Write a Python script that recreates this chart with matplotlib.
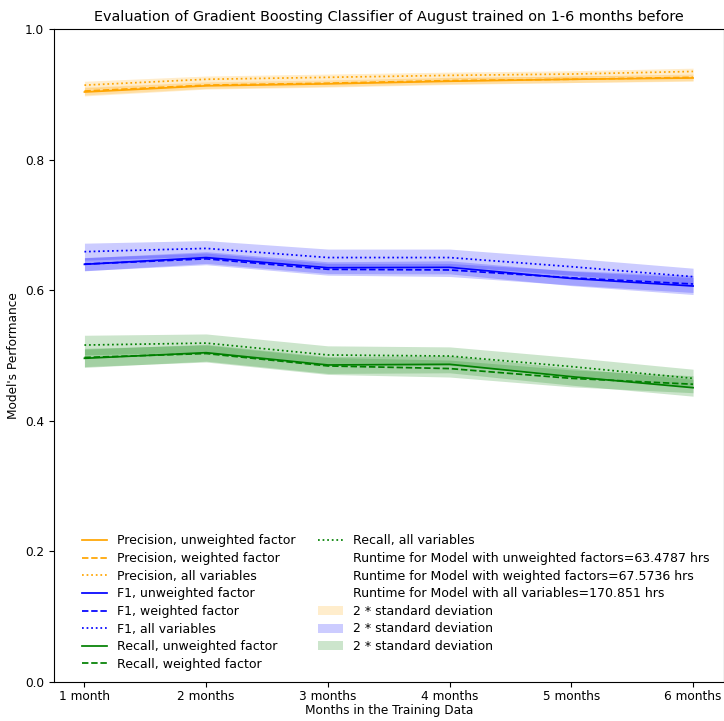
import numpy as np
import matplotlib
matplotlib.use('Agg')
import matplotlib.pyplot as plt

months = [1, 2, 3, 4, 5, 6]
month_labels = ['1 month', '2 months', '3 months', '4 months', '5 months', '6 months']

# mean scores per metric: unweighted factor, weighted factor, all variables
prec_unw = [0.9035, 0.913, 0.916, 0.920, 0.923, 0.925]
prec_w = [0.905, 0.914, 0.917, 0.921, 0.923, 0.926]
prec_all = [0.914, 0.923, 0.926, 0.929, 0.931, 0.935]
f1_unw = [0.6396, 0.650, 0.6345, 0.635, 0.618, 0.6064]
f1_w = [0.640, 0.648, 0.632, 0.631, 0.619, 0.6095]
f1_all = [0.659, 0.664, 0.650, 0.650, 0.636, 0.6207]
rec_unw = [0.4957, 0.5043, 0.4855, 0.4865, 0.4676, 0.4507]
rec_w = [0.497, 0.503, 0.484, 0.480, 0.465, 0.456]
rec_all = [0.516, 0.519, 0.5008, 0.4992, 0.483, 0.465]

# standard deviations (band = mean +/- 2*std)
prec_std = [0.003, 0.0025, 0.0025, 0.0025, 0.0025, 0.0025]
f1_std = [0.005, 0.0045, 0.0045, 0.005, 0.0055, 0.0065]
f1_std_all = [0.0065, 0.006, 0.0065, 0.0065, 0.0065, 0.0065]
rec_std = [0.007, 0.0065, 0.0065, 0.0065, 0.0065, 0.0065]
rec_std_all = [0.0075, 0.007, 0.007, 0.007, 0.007, 0.007]

runtime_unw = 63.4787
runtime_w = 67.5736
runtime_all = 170.851

fs = 8.7
fig = plt.figure(figsize=(7.24, 7.21), dpi=100)
ax = fig.add_axes([54 / 724, 1 - 682 / 721, (723.5 - 54) / 724, (682 - 29) / 721])

x = np.array(months)
groups = [
    ('Precision', 'orange', prec_unw, prec_w, prec_all, prec_std, prec_std),
    ('F1', 'blue', f1_unw, f1_w, f1_all, f1_std, f1_std_all),
    ('Recall', 'green', rec_unw, rec_w, rec_all, rec_std, rec_std_all),
]

line_handles = []
fill_handles = []
for name, c, unw, w, allv, sd, sd_all in groups:
    h1, = ax.plot(x, unw, '-', color=c, lw=1.25, label=name + ', unweighted factor')
    h2, = ax.plot(x, w, '--', color=c, lw=1.25, label=name + ', weighted factor')
    h3, = ax.plot(x, allv, ':', color=c, lw=1.25, label=name + ', all variables')
    line_handles += [h1, h2, h3]
    first = None
    for vals, s in [(unw, sd), (w, sd), (allv, sd_all)]:
        vals = np.array(vals)
        s = np.array(s)
        f = ax.fill_between(x, vals - 2 * s, vals + 2 * s, color=c, alpha=0.2,
                            lw=0, label='2 * standard deviation')
        if first is None:
            first = f
    fill_handles.append(first)

runtime_handles = [
    ax.plot([], [], ' ', label='Runtime for Model with unweighted factors=%g hrs' % runtime_unw)[0],
    ax.plot([], [], ' ', label='Runtime for Model with weighted factors=%g hrs' % runtime_w)[0],
    ax.plot([], [], ' ', label='Runtime for Model with all variables=%g hrs' % runtime_all)[0],
]

handles = line_handles + runtime_handles + fill_handles
ax.legend(handles=handles, labels=[h.get_label() for h in handles], ncol=2,
          loc='lower center', bbox_to_anchor=(0.51, 0.0), frameon=False,
          fontsize=9.0, labelspacing=0.37, columnspacing=1.8)

ax.set_ylim(0, 1.0)
ax.set_xlim(0.75, 6.25)
ax.set_xticks(months)
ax.set_xticklabels(month_labels)
ax.set_yticks([0.0, 0.2, 0.4, 0.6, 0.8, 1.0])
ax.tick_params(labelsize=fs)
ax.tick_params(axis='x', pad=2)
ax.set_xlabel('Months in the Training Data', fontsize=fs, labelpad=1)
ax.set_ylabel("Model's Performance", fontsize=fs)
ax.set_title('Evaluation of Gradient Boosting Classifier of August trained on 1-6 months before',
             fontsize=10.4)

fig.savefig('out.png', dpi=100)
